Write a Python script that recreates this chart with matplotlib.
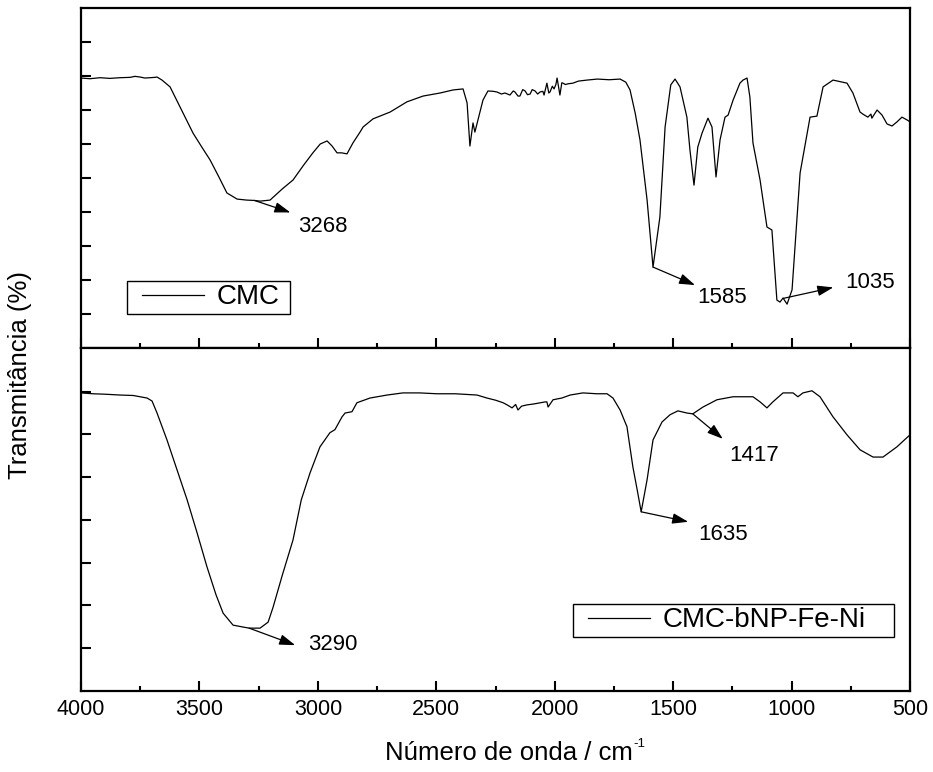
import numpy as np
import matplotlib
matplotlib.use("Agg")
import matplotlib.pyplot as plt
from matplotlib.lines import Line2D
from matplotlib.legend_handler import HandlerLine2D
from matplotlib.text import OffsetFrom

plt.rcParams["font.family"] = ["Liberation Sans", "DejaVu Sans"]

# ---- FTIR spectra (wavenumber in cm-1, transmittance in arbitrary offset units) ----
cmc_wn = [4000, 3962, 3920, 3878, 3835, 3793, 3772, 3751, 3730, 3709, 3688, 3679,
          3658, 3624, 3580, 3527, 3490, 3455, 3420, 3384, 3341, 3300, 3268, 3244,
          3202, 3150, 3105, 3060, 3021, 2990, 2961, 2940, 2919, 2900, 2877, 2852,
          2822, 2809, 2767, 2695, 2624, 2556, 2484, 2429, 2387, 2370, 2358, 2345,
          2337, 2324, 2303, 2282, 2260, 2244, 2225, 2210, 2189, 2175, 2168, 2155,
          2147, 2135, 2125, 2115, 2104, 2095, 2083, 2072, 2062, 2050, 2045, 2033,
          2025, 2020, 2010, 2003, 1995, 1990, 1978, 1970, 1965, 1955, 1944, 1923,
          1900, 1864, 1820, 1770, 1724, 1700, 1682, 1660, 1640, 1610, 1585, 1556,
          1534, 1510, 1492, 1471, 1442, 1429, 1412, 1396, 1378, 1353, 1336, 1319,
          1302, 1281, 1268, 1247, 1218, 1205, 1188, 1176, 1163, 1133, 1104, 1083,
          1062, 1049, 1036, 1019, 998, 964, 922, 893, 867, 825, 766, 741, 711,
          699, 678, 665, 661, 639, 618, 597, 576, 555, 534, 513, 500]
cmc_t = [7.94, 7.92, 7.95, 7.93, 7.95, 7.96, 7.99, 7.97, 7.94, 7.95, 7.96, 7.97,
         7.88, 7.68, 7.06, 6.32, 5.91, 5.53, 5.06, 4.56, 4.38, 4.35, 4.34, 4.32,
         4.35, 4.68, 4.94, 5.38, 5.74, 6.00, 6.09, 5.94, 5.74, 5.74, 5.71, 6.03,
         6.35, 6.50, 6.74, 6.94, 7.24, 7.41, 7.50, 7.59, 7.62, 7.21, 5.94, 6.62,
         6.35, 6.71, 7.29, 7.56, 7.55, 7.53, 7.47, 7.50, 7.44, 7.56, 7.53, 7.41,
         7.41, 7.60, 7.56, 7.45, 7.47, 7.60, 7.56, 7.47, 7.53, 7.55, 7.44, 7.79,
         7.50, 7.53, 7.70, 7.62, 7.75, 7.94, 7.44, 7.80, 7.79, 7.75, 7.77, 7.79,
         7.85, 7.88, 7.91, 7.89, 7.91, 7.82, 7.59, 6.90, 6.12, 4.35, 2.38, 3.85,
         6.50, 7.74, 7.91, 7.68, 6.79, 5.82, 4.79, 5.91, 6.32, 6.76, 6.50, 5.03,
         6.12, 6.79, 6.85, 7.29, 7.79, 7.88, 7.94, 7.38, 6.03, 4.94, 3.56, 3.47,
         1.41, 1.35, 1.47, 1.29, 1.71, 5.15, 6.79, 6.82, 7.68, 7.88, 7.79, 7.50, 6.94,
         6.88, 6.79, 6.88, 6.76, 7.00, 6.85, 6.59, 6.53, 6.65, 6.79, 6.71, 6.65]

fe_ni_wn = [4000, 3950, 3900, 3835, 3780, 3721, 3700, 3679, 3637, 3600, 3552, 3510,
            3468, 3430, 3400, 3358, 3320, 3290, 3244, 3210, 3189, 3150, 3105, 3070,
            3033, 2991, 2949, 2928, 2898, 2885, 2856, 2835, 2780, 2708, 2641, 2570,
            2497, 2420, 2328, 2286, 2250, 2218, 2201, 2180, 2165, 2155, 2140, 2117,
            2090, 2060, 2040, 2033, 2028, 2007, 1970, 1935, 1881, 1822, 1779, 1754,
            1724, 1695, 1670, 1650, 1635, 1610, 1585, 1547, 1513, 1480, 1442, 1417,
            1374, 1315, 1247, 1200, 1163, 1133, 1104, 1079, 1036, 994, 973, 952,
            914, 880, 825, 766, 711, 656, 614, 555, 500]
fe_ni_t = [6.97, 6.95, 6.94, 6.92, 6.91, 6.85, 6.78, 6.50, 5.87, 5.26, 4.47, 3.70,
           2.90, 2.25, 1.82, 1.54, 1.50, 1.47, 1.47, 1.61, 1.96, 2.71, 3.53, 4.47,
           5.10, 5.71, 6.04, 6.11, 6.41, 6.50, 6.53, 6.74, 6.85, 6.92, 6.97, 6.97,
           6.95, 6.95, 6.92, 6.85, 6.80, 6.74, 6.69, 6.62, 6.70, 6.57, 6.66, 6.69,
           6.71, 6.74, 6.76, 6.76, 6.64, 6.81, 6.85, 6.92, 6.97, 6.95, 6.95, 6.85,
           6.57, 6.18, 5.24, 4.65, 4.19, 4.94, 5.87, 6.29, 6.46, 6.55, 6.50, 6.48,
           6.64, 6.81, 6.88, 6.88, 6.88, 6.76, 6.62, 6.76, 6.97, 6.97, 6.88, 6.97,
           7.02, 6.88, 6.41, 5.99, 5.64, 5.47, 5.47, 5.71, 5.99]

# band labels: wavenumber, arrow-head offset (px), text offset (px)
cmc_bands = [3268, 1585, 1035]
cmc_heads = [(36, -12), (42, -18), (50, 11)]
cmc_texts = [(44, -32), (44, -36), (62, 10)]

fe_ni_bands = [3290, 1635, 1417]
fe_ni_heads = [(46, -17), (47, -10), (30, -25)]
fe_ni_texts = [(59, -22), (57, -28), (36, -47)]

x_ticks = [4000, 3500, 3000, 2500, 2000, 1500, 1000, 500]

fig = plt.figure(figsize=(9.33, 7.72), dpi=100)
ax1 = fig.add_axes([0.08682, 0.54922, 0.88853, 0.44041])
ax2 = fig.add_axes([0.08682, 0.10492, 0.88853, 0.44430])


def style_axis(ax, ymax, yticks, show_xlabels):
    ax.set_xlim(4000, 500)
    ax.set_ylim(0, ymax)
    ax.set_xticks(x_ticks)
    ax.set_xticks(np.arange(3750, 500, -500), minor=True)
    ax.set_yticks(yticks)
    ax.set_yticklabels([])
    if not show_xlabels:
        ax.set_xticklabels([])
    else:
        ax.set_xticklabels([str(t) for t in x_ticks])
    for s in ax.spines.values():
        s.set_linewidth(1.6)
    ax.tick_params(axis="both", which="major", direction="in", length=7,
                   width=1.5, labelsize=15.5, pad=6, top=False, right=False)
    ax.tick_params(axis="x", which="minor", direction="in", length=3.5,
                   width=1.5, top=False)
    ax.tick_params(axis="y", which="minor", left=False, right=False)


def annotate_bands(ax, wn, vals, bands, heads, texts):
    wn_r = np.array(wn[::-1], dtype=float)
    v_r = np.array(vals[::-1], dtype=float)
    for band, head, txt in zip(bands, heads, texts):
        yv = float(np.interp(band, wn_r, v_r))
        ax.annotate("", xy=head,
                    xycoords=OffsetFrom(ax.transData, (band, yv), unit="pixels"),
                    xytext=(band, yv), textcoords="data",
                    arrowprops=dict(arrowstyle="-|>,head_length=0.6,head_width=0.2",
                                    color="black", lw=0.9, shrinkA=0, shrinkB=0,
                                    mutation_scale=16))
        ax.annotate(str(band), xy=(band, yv), xytext=txt,
                    textcoords="offset pixels", ha="left", va="baseline",
                    fontsize=16, color="black")


l1, = ax1.plot(cmc_wn, cmc_t, color="black", lw=0.9, label="CMC")
l2, = ax2.plot(fe_ni_wn, fe_ni_t, color="black", lw=0.9, label="CMC-bNP-Fe-Ni")

style_axis(ax1, 10, range(1, 10), False)
style_axis(ax2, 8.02, range(1, 8), True)

annotate_bands(ax1, cmc_wn, cmc_t, cmc_bands, cmc_heads, cmc_texts)
annotate_bands(ax2, fe_ni_wn, fe_ni_t, fe_ni_bands, fe_ni_heads, fe_ni_texts)

legend_kw = dict(loc="lower left", mode="expand", fontsize=20, frameon=True,
                 fancybox=False, framealpha=1, edgecolor="black",
                 borderpad=0.13, borderaxespad=0, handlelength=3.03,
                 handletextpad=0.08, numpoints=2,
                 handler_map={Line2D: HandlerLine2D(marker_pad=0.4, numpoints=2)})
leg1 = ax1.legend(handles=[l1], bbox_to_anchor=(0.0555, 0.10, 0.1966, 0.1),
                  **legend_kw)
leg2 = ax2.legend(handles=[l2], bbox_to_anchor=(0.5935, 0.1574, 0.3872, 0.1),
                  **legend_kw)
for leg in (leg1, leg2):
    leg.get_frame().set_linewidth(1.0)

fig.text(20 / 933, 1 - 375 / 772, "Transmitância (%)", rotation=90,
         ha="center", va="center", fontsize=18.5)
xl = fig.text(385 / 933, 1 - 760 / 772, "Número de onda / cm",
              ha="left", va="baseline", fontsize=18.5)
# superscript unit exponent placed just after the axis title
ax2.annotate("-1", xy=(1.0, 1.0), xycoords=xl, xytext=(1, 3),
             textcoords="offset pixels", ha="left", va="top", fontsize=9.5,
             annotation_clip=False)

fig.savefig("out.png", dpi=100)
